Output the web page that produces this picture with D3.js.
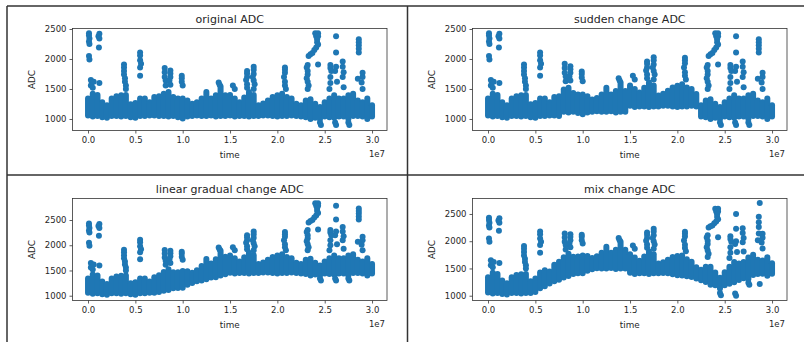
<!DOCTYPE html>
<html>
<head>
<meta charset="utf-8">
<script src="https://cdn.jsdelivr.net/npm/d3@7/dist/d3.min.js"></script>
<style>
  body { margin: 0; background: #fff; }
  svg { display: block; font-family: "DejaVu Sans", sans-serif; }
</style>
</head>
<body>
<svg id="chart" width="804" height="342"></svg>
<script>
// time bins, in units of 1e7
const timeE7 = [0, 0.05, 0.1, 0.15, 0.2, 0.25, 0.3, 0.35, 0.4, 0.45, 0.5, 0.55, 0.6, 0.65, 0.7, 0.75,
  0.8, 0.85, 0.9, 0.95, 1.0, 1.05, 1.1, 1.15, 1.2, 1.25, 1.3, 1.35, 1.4, 1.45, 1.5, 1.55, 1.6, 1.65,
  1.7, 1.75, 1.8, 1.85, 1.9, 1.95, 2.0, 2.05, 2.1, 2.15, 2.2, 2.25, 2.3, 2.35, 2.4, 2.45, 2.5, 2.55,
  2.6, 2.65, 2.7, 2.75, 2.8, 2.85, 2.9, 2.95, 3.0];

const xTicks = [0, 0.5, 1.0, 1.5, 2.0, 2.5, 3.0];
const yTicks = [1000, 1500, 2000, 2500];
const titles = ["original ADC", "sudden change ADC", "linear gradual change ADC", "mix change ADC"];

// dense band of points: lowest / highest reading in each time bin
const origHigh = [1340, 1420, 1400, 1280, 1230, 1340, 1380, 1395, 1400, 1245, 1265, 1340, 1340, 1280, 1365, 1380,
  1420, 1450, 1365, 1340, 1340, 1310, 1255, 1280, 1340, 1450, 1340, 1395, 1540, 1395, 1400, 1340, 1280, 1360,
  1450, 1400, 1230, 1260, 1310, 1365, 1395, 1420, 1365, 1340, 1255, 1230, 1310, 1330, 1255, 1200, 1280, 1340,
  1395, 1340, 1340, 1395, 1420, 1310, 1280, 1340, 1230];
const origLow = [1060, 1040, 1050, 1030, 1020, 1050, 1050, 1040, 1050, 1030, 1020, 1050, 1050, 1060, 1060, 1050,
  1050, 1040, 1050, 1030, 1010, 1040, 1050, 1060, 1050, 1050, 1060, 1040, 1050, 1050, 1060, 1040, 1050, 1050,
  1040, 1050, 1050, 1060, 1060, 1050, 1040, 1050, 1050, 1060, 1050, 1040, 1030, 1000, 1020, 1000, 1040, 1030,
  1020, 1040, 1040, 1000, 1050, 1050, 1040, 1000, 1040];

const suddenHigh = [1340, 1420, 1400, 1280, 1230, 1340, 1380, 1395, 1400, 1245, 1265, 1340, 1340, 1280, 1365, 1380,
  1490, 1520, 1435, 1410, 1410, 1380, 1325, 1350, 1410, 1520, 1410, 1465, 1610, 1465, 1560, 1500, 1440, 1520,
  1610, 1560, 1390, 1420, 1470, 1525, 1555, 1580, 1525, 1500, 1415, 1230, 1310, 1330, 1255, 1200, 1280, 1340,
  1395, 1340, 1340, 1395, 1420, 1310, 1280, 1340, 1230];
const suddenLow = [1060, 1040, 1050, 1030, 1020, 1050, 1050, 1040, 1050, 1030, 1020, 1050, 1050, 1060, 1060, 1050,
  1120, 1110, 1120, 1100, 1080, 1110, 1120, 1130, 1120, 1120, 1130, 1110, 1120, 1120, 1220, 1200, 1210, 1210,
  1200, 1210, 1210, 1220, 1220, 1210, 1200, 1210, 1210, 1220, 1210, 1040, 1030, 1000, 1020, 1000, 1040, 1030,
  1020, 1040, 1040, 1000, 1050, 1050, 1040, 1000, 1040];

const linearHigh = [1340, 1420, 1400, 1280, 1230, 1340, 1380, 1395, 1400, 1245, 1265, 1340, 1340, 1280, 1365, 1405,
  1470, 1525, 1465, 1465, 1490, 1485, 1455, 1505, 1590, 1725, 1640, 1720, 1890, 1770, 1795, 1740, 1680, 1760,
  1850, 1800, 1630, 1660, 1710, 1765, 1795, 1820, 1765, 1740, 1655, 1630, 1710, 1730, 1655, 1600, 1680, 1740,
  1795, 1740, 1740, 1795, 1820, 1710, 1680, 1740, 1630];
const linearLow = [1060, 1040, 1050, 1030, 1020, 1050, 1050, 1040, 1050, 1030, 1020, 1050, 1050, 1060, 1060, 1075,
  1100, 1115, 1150, 1155, 1160, 1215, 1250, 1285, 1300, 1325, 1360, 1365, 1400, 1425, 1455, 1440, 1450, 1450,
  1440, 1450, 1450, 1460, 1460, 1450, 1440, 1450, 1450, 1460, 1450, 1440, 1430, 1400, 1420, 1400, 1440, 1430,
  1420, 1440, 1440, 1400, 1450, 1450, 1440, 1400, 1440];

const mixHigh = [1340, 1420, 1400, 1280, 1230, 1340, 1380, 1395, 1400, 1265, 1315, 1425, 1465, 1445, 1570, 1625,
  1705, 1770, 1715, 1720, 1740, 1730, 1690, 1725, 1790, 1900, 1790, 1845, 1990, 1845, 1760, 1700, 1640, 1720,
  1810, 1760, 1590, 1615, 1660, 1710, 1730, 1740, 1670, 1625, 1520, 1475, 1530, 1530, 1425, 1330, 1430, 1530,
  1620, 1590, 1620, 1700, 1750, 1660, 1645, 1705, 1595];
const mixLow = [1060, 1040, 1050, 1030, 1020, 1050, 1050, 1040, 1050, 1050, 1070, 1135, 1175, 1225, 1265, 1295,
  1335, 1360, 1400, 1410, 1410, 1460, 1485, 1505, 1500, 1500, 1510, 1490, 1500, 1500, 1420, 1400, 1410, 1410,
  1400, 1410, 1410, 1415, 1410, 1395, 1375, 1370, 1355, 1345, 1315, 1285, 1250, 1200, 1190, 1130, 1190, 1220,
  1245, 1290, 1320, 1305, 1380, 1400, 1405, 1365, 1405];

// isolated readings outside the band: [time (1e7), ADC]
const firstSpikes = [[0.01, 2430], [0.01, 2390], [0.015, 2340], [0.01, 2290], [0.015, 2250], [0.01, 2050],
  [0.015, 1990], [0.03, 1650], [0.04, 1610], [0.03, 1560], [0.06, 1620], [0.05, 1520], [0.12, 2420],
  [0.11, 2380], [0.12, 2340], [0.115, 2190], [0.12, 1600], [0.38, 1910], [0.38, 1860], [0.38, 1800],
  [0.38, 1740], [0.39, 1680], [0.39, 1620], [0.4, 1560], [0.4, 1500]];

const origDots = [[0.55, 2110], [0.55, 2060], [0.55, 1980], [0.56, 1920], [0.55, 1860], [0.55, 1720],
  [0.81, 1850], [0.81, 1780], [0.81, 1700], [0.82, 1640], [0.82, 1560],
  [0.87, 1810], [0.87, 1760], [0.87, 1700], [0.86, 1640], [0.87, 1570],
  [0.99, 1720], [0.99, 1680], [0.99, 1620], [1.0, 1560], [1.38, 1610], [1.39, 1570], [1.53, 1560], [1.55, 1500],
  [1.68, 1800], [1.68, 1760], [1.68, 1700], [1.67, 1650], [1.68, 1580], [1.68, 1520],
  [1.75, 1870], [1.75, 1820], [1.75, 1750], [1.74, 1700], [1.75, 1640], [1.76, 1580], [1.75, 1500],
  [2.08, 1860], [2.08, 1820], [2.08, 1770], [2.07, 1700], [2.08, 1620], [2.08, 1560], [2.09, 1500],
  [2.32, 1900], [2.31, 1860], [2.32, 1800], [2.32, 1740], [2.31, 1680], [2.32, 1620], [2.33, 1560], [2.32, 1500],
  [2.33, 2050], [2.35, 2080], [2.37, 2100], [2.39, 2150], [2.41, 2190],
  [2.4, 2430], [2.43, 2430], [2.41, 2380], [2.43, 2380], [2.42, 2330], [2.42, 2280], [2.43, 2240], [2.43, 1910],
  [2.56, 1900], [2.56, 1850], [2.57, 1800], [2.56, 1700], [2.56, 1600], [2.55, 1500],
  [2.62, 2380], [2.62, 2110], [2.62, 1870], [2.61, 1800], [2.63, 1620],
  [2.69, 1960], [2.69, 1870], [2.7, 1780], [2.69, 1700], [2.7, 1530],
  [2.86, 2330], [2.86, 2280], [2.86, 2230], [2.86, 2170], [2.86, 2110], [2.85, 1670],
  [2.9, 1770], [2.9, 1700], [2.89, 1610], [2.9, 1500],
  [2.46, 900], [2.45, 940], [2.62, 900], [2.61, 940], [2.76, 900], [2.75, 940]];

const suddenDots = [[0.55, 2110], [0.55, 2060], [0.55, 1980], [0.56, 1920], [0.55, 1860], [0.55, 1720],
  [0.81, 1920], [0.81, 1850], [0.81, 1770], [0.82, 1710], [0.82, 1630],
  [0.87, 1880], [0.87, 1830], [0.87, 1770], [0.86, 1710], [0.87, 1640],
  [0.99, 1790], [0.99, 1750], [0.99, 1690], [1.0, 1630], [1.38, 1680], [1.39, 1640], [1.53, 1720], [1.55, 1660],
  [1.68, 1960], [1.68, 1920], [1.68, 1860], [1.67, 1810], [1.68, 1740], [1.68, 1680],
  [1.75, 2030], [1.75, 1980], [1.75, 1910], [1.74, 1860], [1.75, 1800], [1.76, 1740], [1.75, 1660],
  [2.08, 2020], [2.08, 1980], [2.08, 1930], [2.07, 1860], [2.08, 1780], [2.08, 1720], [2.09, 1660],
  [2.32, 1900], [2.31, 1860], [2.32, 1800], [2.32, 1740], [2.31, 1680], [2.32, 1620], [2.33, 1560], [2.32, 1500],
  [2.33, 2050], [2.35, 2080], [2.37, 2100], [2.39, 2150], [2.41, 2190],
  [2.4, 2430], [2.43, 2430], [2.41, 2380], [2.43, 2380], [2.42, 2330], [2.42, 2280], [2.43, 2240], [2.43, 1910],
  [2.56, 1900], [2.56, 1850], [2.57, 1800], [2.56, 1700], [2.56, 1600], [2.55, 1500],
  [2.62, 2380], [2.62, 2110], [2.62, 1870], [2.61, 1800], [2.63, 1620],
  [2.69, 1960], [2.69, 1870], [2.7, 1780], [2.69, 1700], [2.7, 1530],
  [2.86, 2330], [2.86, 2280], [2.86, 2230], [2.86, 2170], [2.86, 2110], [2.85, 1670],
  [2.9, 1770], [2.9, 1700], [2.89, 1610], [2.9, 1500],
  [2.46, 900], [2.45, 940], [2.62, 900], [2.61, 940], [2.76, 900], [2.75, 940]];

const linearDots = [[0.55, 2110], [0.55, 2060], [0.55, 1980], [0.56, 1920], [0.55, 1860], [0.55, 1720],
  [0.81, 1905], [0.81, 1835], [0.81, 1755], [0.82, 1695], [0.82, 1615],
  [0.87, 1890], [0.87, 1840], [0.87, 1780], [0.86, 1720], [0.87, 1650],
  [0.99, 1870], [0.99, 1830], [0.99, 1770], [1.0, 1710], [1.38, 1955], [1.39, 1915], [1.53, 1960], [1.55, 1900],
  [1.68, 2200], [1.68, 2160], [1.68, 2100], [1.67, 2050], [1.68, 1980], [1.68, 1920],
  [1.75, 2270], [1.75, 2220], [1.75, 2150], [1.74, 2100], [1.75, 2040], [1.76, 1980], [1.75, 1900],
  [2.08, 2260], [2.08, 2220], [2.08, 2170], [2.07, 2100], [2.08, 2020], [2.08, 1960], [2.09, 1900],
  [2.32, 2300], [2.31, 2260], [2.32, 2200], [2.32, 2140], [2.31, 2080], [2.32, 2020], [2.33, 1960], [2.32, 1900],
  [2.33, 2450], [2.35, 2480], [2.37, 2500], [2.39, 2550], [2.41, 2590],
  [2.4, 2830], [2.43, 2830], [2.41, 2780], [2.43, 2780], [2.42, 2730], [2.42, 2680], [2.43, 2640], [2.43, 2310],
  [2.56, 2300], [2.56, 2250], [2.57, 2200], [2.56, 2100], [2.56, 2000], [2.55, 1900],
  [2.62, 2780], [2.62, 2510], [2.62, 2270], [2.61, 2200], [2.63, 2020],
  [2.69, 2360], [2.69, 2270], [2.7, 2180], [2.69, 2100], [2.7, 1930],
  [2.86, 2730], [2.86, 2680], [2.86, 2630], [2.86, 2570], [2.86, 2510], [2.85, 2070],
  [2.9, 2170], [2.9, 2100], [2.89, 2010], [2.9, 1900],
  [2.46, 1300], [2.45, 1340], [2.62, 1300], [2.61, 1340], [2.76, 1300], [2.75, 1340]];

const mixDots = [[0.55, 2180], [0.55, 2130], [0.55, 2050], [0.56, 1990], [0.55, 1930], [0.55, 1790],
  [0.81, 2140], [0.81, 2070], [0.81, 1990], [0.82, 1930], [0.82, 1850],
  [0.87, 2130], [0.87, 2080], [0.87, 2020], [0.86, 1960], [0.87, 1890],
  [0.99, 2120], [0.99, 2080], [0.99, 2020], [1.0, 1960], [1.38, 2060], [1.39, 2020], [1.53, 1920], [1.55, 1860],
  [1.68, 2160], [1.68, 2120], [1.68, 2060], [1.67, 2010], [1.68, 1940], [1.68, 1880],
  [1.75, 2230], [1.75, 2180], [1.75, 2110], [1.74, 2060], [1.75, 2000], [1.76, 1940], [1.75, 1860],
  [2.08, 2175], [2.08, 2135], [2.08, 2085], [2.07, 2015], [2.08, 1935], [2.08, 1875], [2.09, 1815],
  [2.32, 2110], [2.31, 2070], [2.32, 2010], [2.32, 1950], [2.31, 1890], [2.32, 1830], [2.33, 1770], [2.32, 1710],
  [2.33, 2250], [2.35, 2275], [2.37, 2290], [2.39, 2330], [2.41, 2360],
  [2.4, 2595], [2.43, 2595], [2.41, 2545], [2.43, 2545], [2.42, 2495], [2.42, 2445], [2.43, 2405], [2.43, 2075],
  [2.56, 2090], [2.56, 2040], [2.57, 1990], [2.56, 1890], [2.56, 1790], [2.55, 1690],
  [2.62, 2500], [2.62, 2230], [2.62, 2000], [2.61, 1950], [2.63, 1800],
  [2.69, 2240], [2.69, 2150], [2.7, 2060], [2.69, 1980], [2.7, 1810],
  [2.87, 2700], [2.86, 2450], [2.86, 2350], [2.86, 2260], [2.86, 2140], [2.85, 2020], [2.87, 1215],
  [2.9, 2135], [2.9, 2065], [2.89, 1975], [2.9, 1865],
  [2.46, 1010], [2.45, 1050], [2.62, 1000], [2.61, 1040], [2.76, 1200], [2.75, 1240]];

const blue = "#1f77b4";
const ink = "#262626";

const svg = d3.select("#chart");
svg.append("rect").attr("width", 804).attr("height", 342).attr("fill", "#fff");

const panels = [
  { title: titles[0], low: origLow, high: origHigh, dots: firstSpikes.concat(origDots), yDomain: [808, 2508], ox: 0, oy: 0 },
  { title: titles[1], low: suddenLow, high: suddenHigh, dots: firstSpikes.concat(suddenDots), yDomain: [808, 2508], ox: 400, oy: 0 },
  { title: titles[2], low: linearLow, high: linearHigh, dots: firstSpikes.concat(linearDots), yDomain: [905, 2926], ox: 0, oy: 170 },
  { title: titles[3], low: mixLow, high: mixHigh, dots: firstSpikes.concat(mixDots), yDomain: [912, 2784], ox: 400, oy: 170 }
];

const box = { left: 72.5, right: 387, top: 28.5, bottom: 130.5 };
const x = d3.scaleLinear().domain([-0.164, 3.158]).range([box.left, box.right]);

panels.forEach((p, i) => {
  const g = svg.append("g").attr("transform", `translate(${p.ox},${p.oy})`);
  const y = d3.scaleLinear().domain(p.yDomain).range([box.bottom, box.top]);

  g.append("clipPath").attr("id", "clip" + i)
    .append("rect")
    .attr("x", box.left).attr("y", box.top)
    .attr("width", box.right - box.left).attr("height", box.bottom - box.top);

  const plot = g.append("g").attr("clip-path", `url(#clip${i})`);

  // each bin of the dense band is a column of overlapping markers
  plot.selectAll("line")
    .data(timeE7)
    .join("line")
    .attr("x1", (d) => x(d))
    .attr("x2", (d) => x(d))
    .attr("y1", (d, j) => y(p.low[j]))
    .attr("y2", (d, j) => y(p.high[j]))
    .attr("stroke", blue)
    .attr("stroke-width", 6)
    .attr("stroke-linecap", "round");

  plot.selectAll("circle")
    .data(p.dots)
    .join("circle")
    .attr("cx", (d) => x(d[0]))
    .attr("cy", (d) => y(d[1]))
    .attr("r", 3)
    .attr("fill", blue);

  g.append("rect")
    .attr("x", box.left).attr("y", box.top)
    .attr("width", box.right - box.left).attr("height", box.bottom - box.top)
    .attr("fill", "none").attr("stroke", "#333").attr("stroke-width", 0.8);

  const xAxis = g.append("g")
    .attr("transform", `translate(0,${box.bottom})`)
    .call(d3.axisBottom(x).tickValues(xTicks).tickSize(3).tickPadding(3).tickFormat(d3.format(".1f")));
  const yAxis = g.append("g")
    .attr("transform", `translate(${box.left},0)`)
    .call(d3.axisLeft(y).tickValues(yTicks).tickSize(3).tickPadding(3).tickFormat(d3.format("d")));

  [xAxis, yAxis].forEach((a) => {
    a.select(".domain").remove();
    a.selectAll(".tick line").attr("stroke", "#333").attr("stroke-width", 0.8);
    a.selectAll(".tick text").attr("fill", ink).attr("font-size", 8.5)
      .attr("font-family", "DejaVu Sans, sans-serif");
  });

  g.append("text")
    .attr("x", (box.left + box.right) / 2).attr("y", 22.5)
    .attr("text-anchor", "middle").attr("font-size", 11).attr("fill", ink)
    .text(p.title);

  g.append("text")
    .attr("x", (box.left + box.right) / 2).attr("y", 157.5)
    .attr("text-anchor", "middle").attr("font-size", 8.8).attr("fill", ink)
    .text("time");

  g.append("text")
    .attr("x", box.right - 2).attr("y", 156.5)
    .attr("text-anchor", "end").attr("font-size", 8.5).attr("fill", ink)
    .text("1e7");

  g.append("text")
    .attr("transform", `translate(35,${(box.top + box.bottom) / 2}) rotate(-90)`)
    .attr("text-anchor", "middle").attr("font-size", 8.8).attr("fill", ink)
    .text("ADC");
});

// table borders around the four images
const borders = [
  [7, 6, 7, 342], [407.5, 6, 407.5, 342], [7, 6, 804, 6], [7, 175, 804, 175]
];
svg.selectAll("line.border")
  .data(borders)
  .join("line")
  .attr("class", "border")
  .attr("x1", (d) => d[0]).attr("y1", (d) => d[1])
  .attr("x2", (d) => d[2]).attr("y2", (d) => d[3])
  .attr("stroke", "#333").attr("stroke-width", 1.5);
</script>
</body>
</html>
